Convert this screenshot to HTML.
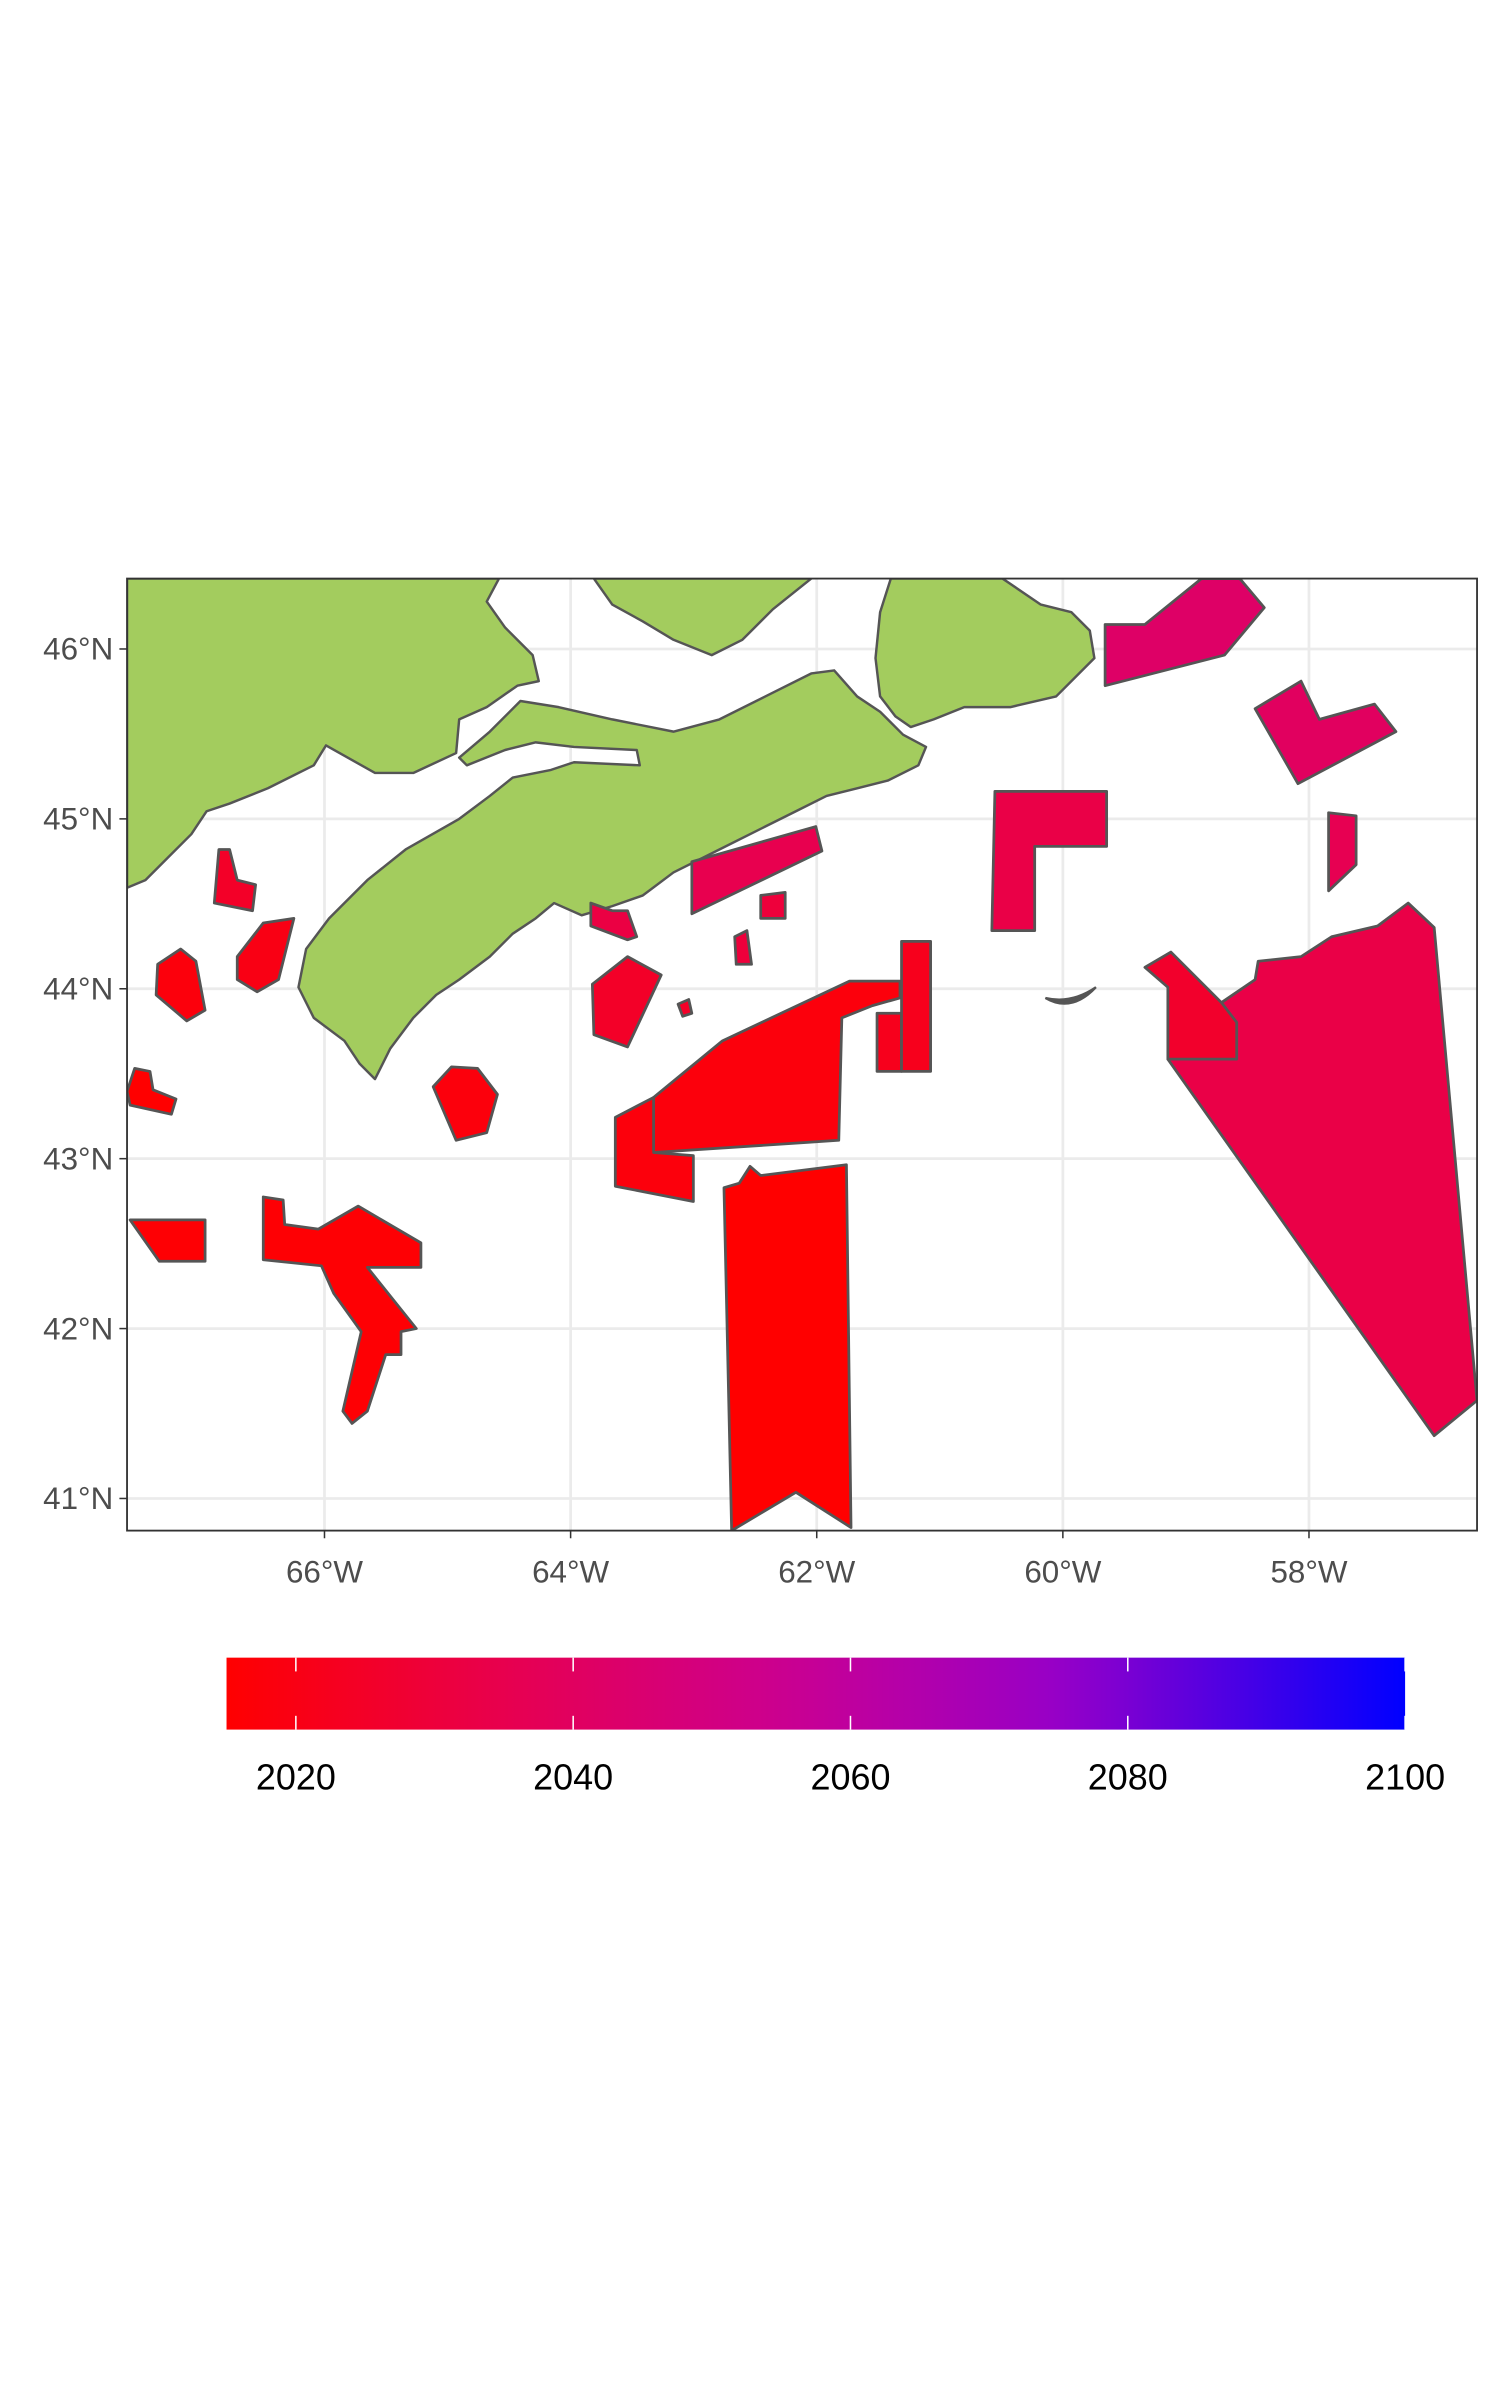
<!DOCTYPE html>
<html><head><meta charset="utf-8"><style>
html,body{margin:0;padding:0;background:#fff}
svg{display:block}
text{font-family:"Liberation Sans",Arial,sans-serif}
</style></head><body>
<svg id="chart" width="1500" height="2400" viewBox="0 0 980 1568" xmlns="http://www.w3.org/2000/svg">
<defs><clipPath id="pc"><rect x="83" y="378" width="882" height="622"/></clipPath>
<linearGradient id="cbg" x1="0" x2="1" y1="0" y2="0"></linearGradient></defs>
<rect x="83" y="378" width="882" height="622" fill="#fff"/>
<g id="grid"></g>
<g clip-path="url(#pc)" id="land" fill="#A3CC5E" stroke="#555" stroke-width="1.6" stroke-linejoin="round">
<polygon points="83,378 326,378 318,393 330,410 348,428 352,445 338,448 318,462 300,470 298,492 270,505 245,505 213,487 205,500 175,515 150,525 135,530 125,545 110,560 95,575 83,580"/>
<polygon points="340,458 365,462 400,470 440,478 470,470 500,455 530,440 545,438 560,455 575,465 590,480 605,488 600,500 580,510 560,515 540,520 520,530 500,540 470,555 440,570 420,585 400,592 380,598 362,590 350,600 335,610 320,625 300,640 285,650 270,665 255,685 245,705 235,695 225,680 205,665 195,645 200,620 215,600 240,575 265,555 300,535 320,520 335,508 360,503 375,498 418,500 416,490 375,488 350,485 330,490 305,500 300,495 320,478"/>
<polygon points="388,378 530,378 505,398 485,418 465,428 440,418 420,406 400,395"/>
<polygon points="582,378 655,378 680,395 700,400 712,412 715,430 690,455 660,462 630,462 610,470 595,475 585,468 575,455 572,430 575,400"/>
</g>
<g clip-path="url(#pc)" id="mpas"></g>
<path d="M683,652 Q700,662 716,645 Q700,656 683,652Z" fill="#555" stroke="#555" stroke-width="1.5"/>
<rect x="83" y="378" width="882" height="622" fill="none" stroke="#333" stroke-width="1.2"/>
<g id="axes"></g>
<rect id="cbar" x="148" y="1083" width="770" height="47" fill="url(#cbg)"/>
<g id="cbticks"></g>
</svg>
<script>
const lonTicks=[-66,-64,-62,-60,-58];
const latTicks=[46,45,44,43,42,41];
const cbTicks=[2020,2040,2060,2080,2100];
const cbRange=[2015,2100];
const mpaYears=[2042,2040,2036,2033,2026,2033,2035,2030,2030,2032,2025,2025,2018,2018,2022,2022,2015,2025,2020,2018,2015,2018,2016,2016];
const mpaShapes=[
"722,408 748,408 785,378 810,378 826,397 800,428 722,448",
"820,463 850,445 862,470 898,460 912,478 848,512",
"868,531 886,533 886,565 868,582",
"798,655 820,640 822,628 850,625 870,612 900,605 920,590 937,606 965,915 937,938 763,692",
"748,632 765,622 798,655 808,668 808,692 763,692 763,645",
"650,517 723,517 723,553 676,553 676,608 648,608",
"452,563 533,540 537,556 452,597",
"497,585 513,583 513,600 497,600",
"480,612 488,608 491,630 481,630",
"386,590 400,595 410,595 416,612 410,614 386,605",
"387,643 410,625 432,637 410,684 388,676",
"443,656 450,653 452,662 446,664",
"427,717 472,680 555,641 588,641 588,652 570,657 550,665 548,745 427,753",
"402,730 427,717 427,753 453,755 453,785 402,775",
"573,662 589,662 589,700 573,700",
"589,615 608,615 608,700 589,700",
"473,776 483,773 490,762 497,768 553,761 556,998 520,975 478,1000",
"143,555 150,555 155,575 167,578 165,595 140,590",
"155,625 172,603 192,600 182,640 168,648 155,640",
"103,630 118,620 128,628 134,660 122,667 102,650",
"88,698 98,700 100,712 115,718 112,728 85,722 83,713",
"283,710 295,697 312,698 325,715 318,740 298,745",
"85,797 134,797 134,824 104,824",
"172,782 185,784 186,800 208,803 234,788 275,812 275,828 240,828 272,868 262,870 262,885 252,885 240,922 230,930 224,922 236,870 218,845 210,827 172,823"];
const NS='http://www.w3.org/2000/svg';
const xLon=l=>212+(l+66)*80.4;
const yLat=l=>424+(46-l)*111;
const xYear=y=>148+(y-cbRange[0])/(cbRange[1]-cbRange[0])*770;
const stops=[[0,[255,0,0]],[0.235,[232,0,79]],[0.47,[204,0,144]],[0.71,[150,0,200]],[1,[0,0,255]]];
function col(y){let t=(y-cbRange[0])/(cbRange[1]-cbRange[0]);t=Math.max(0,Math.min(1,t));
for(let i=1;i<stops.length;i++){if(t<=stops[i][0]){const a=stops[i-1],b=stops[i],f=(t-a[0])/(b[0]-a[0]);
return 'rgb('+a[1].map((v,k)=>Math.round(v+(b[1][k]-v)*f)).join(',')+')';}}return 'rgb(0,0,255)';}
function mk(t,p,a){const e=document.createElementNS(NS,t);for(const k in a)e.setAttribute(k,a[k]);p.appendChild(e);return e;}
const grid=document.getElementById('grid'),axes=document.getElementById('axes');
lonTicks.forEach(l=>{const x=xLon(l);
const g=mk('line',grid,{x1:x,x2:x,y1:378,y2:1000,stroke:'#EBEBEB','stroke-width':1.8});


const tk=mk('line',axes,{x1:x,x2:x,y1:1000,y2:1005,stroke:'#333','stroke-width':1});


const t=mk('text',axes,{x:x,y:1034,'text-anchor':'middle','font-size':20.5,fill:'#4D4D4D'});t.textContent=Math.abs(l)+'°W';

});
latTicks.forEach(l=>{const y=yLat(l);
const g=mk('line',grid,{x1:83,x2:965,y1:y,y2:y,stroke:'#EBEBEB','stroke-width':1.8});


const tk=mk('line',axes,{x1:78,x2:83,y1:y,y2:y,stroke:'#333','stroke-width':1});


const t=mk('text',axes,{x:74,y:y+7,'text-anchor':'end','font-size':20.5,fill:'#4D4D4D'});t.textContent=l+'°N';

});
const mp=document.getElementById('mpas');
mpaShapes.forEach((s,i)=>{const p=mk('polygon',mp,{points:s,fill:col(mpaYears[i]),stroke:'#555','stroke-width':1.8,'stroke-linejoin':'round'});

});
const gr=document.getElementById('cbg');
for(let i=0;i<=20;i++){const y=cbRange[0]+(cbRange[1]-cbRange[0])*i/20;mk('stop',gr,{offset:(i*5)+'%','stop-color':col(y)});}
const cbt=document.getElementById('cbticks');
cbTicks.forEach(y=>{const x=xYear(y);
const a=mk('line',cbt,{x1:x,x2:x,y1:1083,y2:1092,stroke:'#fff','stroke-width':1});


const b=mk('line',cbt,{x1:x,x2:x,y1:1121,y2:1130,stroke:'#fff','stroke-width':1});


const t=mk('text',cbt,{x:x,y:1169,'text-anchor':'middle','font-size':23.5,fill:'#000'});t.textContent=y;

});
</script>
</body></html>
